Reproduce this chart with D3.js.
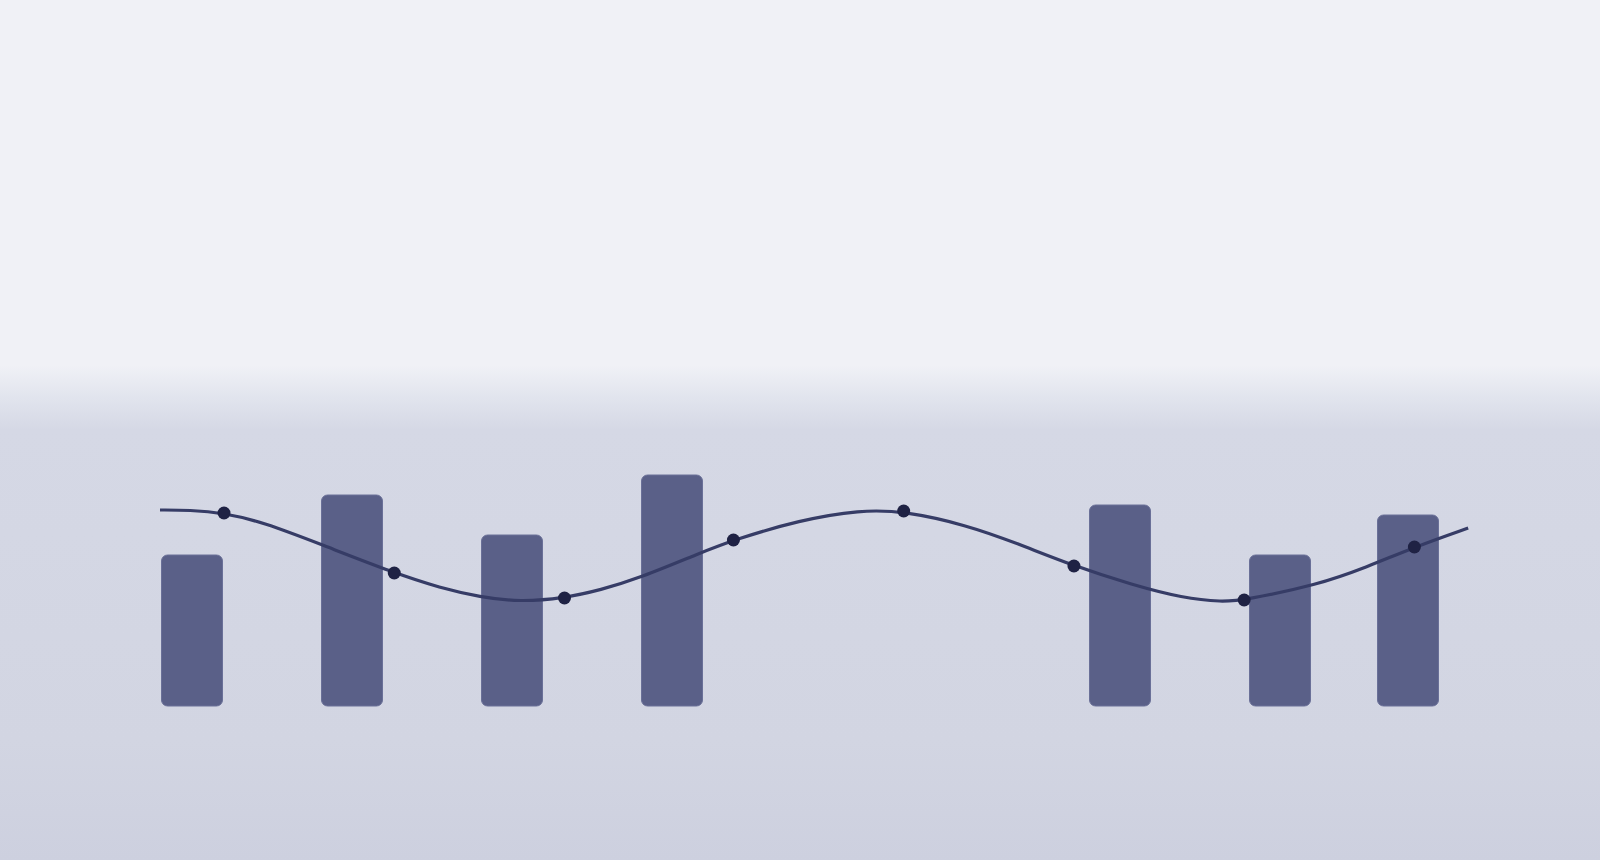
<!DOCTYPE html>
<html>
<head>
<meta charset="utf-8">
<script src="https://cdn.jsdelivr.net/npm/d3@7"></script>
<style>
	html, body { margin: 0; padding: 0; background: #f0f1f6; }
	svg { display: block; }
</style>
</head>
<body>
<svg id="chart" width="1600" height="860"></svg>
<script>
// bars: x position (units) and value
var barX = [2.5, 15, 27.5, 40, 75, 87.5, 97.5]
var barValues = [15.1, 21.1, 17.1, 23.1, 20.1, 15.1, 19.1]

// smooth line
var lineX = [0, 2.3, 5, 8, 12.7, 18.3, 21.9, 25, 28.1, 31.6, 34.4, 37.5, 42.2, 44.8, 50, 54.7, 58.1, 63, 66.9, 71.4, 76, 79.9, 83, 84.7, 90.4, 94.3, 98, 102.2]
var lineValues = [19.6, 19.6, 19.3, 18.4, 16.1, 13.3, 11.8, 10.9, 10.4, 10.8, 11.6, 12.8, 15.3, 16.6, 18.6, 19.6, 19.5, 18.1, 16.3, 14, 12.1, 10.8, 10.4, 10.6, 12.1, 13.9, 15.9, 17.8]

// markers on the line
var dotX = [5, 18.3, 31.6, 44.8, 58.1, 71.4, 84.7, 98]
var dotValues = [19.3, 13.3, 10.8, 16.6, 19.5, 14, 10.6, 15.9]

var W = 1600, H = 860

var svg = d3.select("#chart")

var x = d3.scaleLinear()
	.domain([0, 100])
	.range([160, 1440])

var y = d3.scaleLinear()
	.domain([0, 40])
	.range([706, 306])

// background
var grad = svg.append("defs")
	.append("linearGradient")
	.attr("id", "bg")
	.attr("x1", 0).attr("y1", 0)
	.attr("x2", 0).attr("y2", 1)

grad.selectAll("stop")
	.data([
		[0, "#f0f1f6"],
		[0.425, "#f0f1f6"],
		[0.46, "#e2e5ee"],
		[0.5, "#d5d8e5"],
		[0.86, "#d2d5e2"],
		[1, "#cdd0df"]
	])
	.join("stop")
	.attr("offset", d => d[0])
	.attr("stop-color", d => d[1])

svg.append("rect")
	.attr("width", W)
	.attr("height", H)
	.attr("fill", "url(#bg)")

var bars = barX.map((v, i) => ({ x: v, value: barValues[i] }))
var barW = 61

svg.append("g")
	.attr("id", "bars")
	.selectAll(".bar")
	.data(bars)
	.join("rect")
	.classed("bar", true)
	.attr("x", d => x(d.x) - barW / 2)
	.attr("y", d => y(d.value))
	.attr("width", barW)
	.attr("height", d => y(0) - y(d.value))
	.attr("rx", 6)
	.attr("fill", "#5a6088")
	.attr("stroke", "#6a7098")
	.attr("stroke-width", 1)

var linePts = lineX.map((v, i) => [v, lineValues[i]])

var line = d3.line()
	.x(d => x(d[0]))
	.y(d => y(d[1]))
	.curve(d3.curveBasis)

svg.append("path")
	.datum(linePts)
	.attr("d", line)
	.attr("fill", "none")
	.attr("stroke", "#363c66")
	.attr("stroke-width", 3.2)

var dots = dotX.map((v, i) => ({ x: v, value: dotValues[i] }))

svg.append("g")
	.attr("id", "dots")
	.selectAll(".dot")
	.data(dots)
	.join("circle")
	.classed("dot", true)
	.attr("cx", d => x(d.x))
	.attr("cy", d => y(d.value))
	.attr("r", 6.5)
	.attr("fill", "#1f2244")
</script>
</body>
</html>
